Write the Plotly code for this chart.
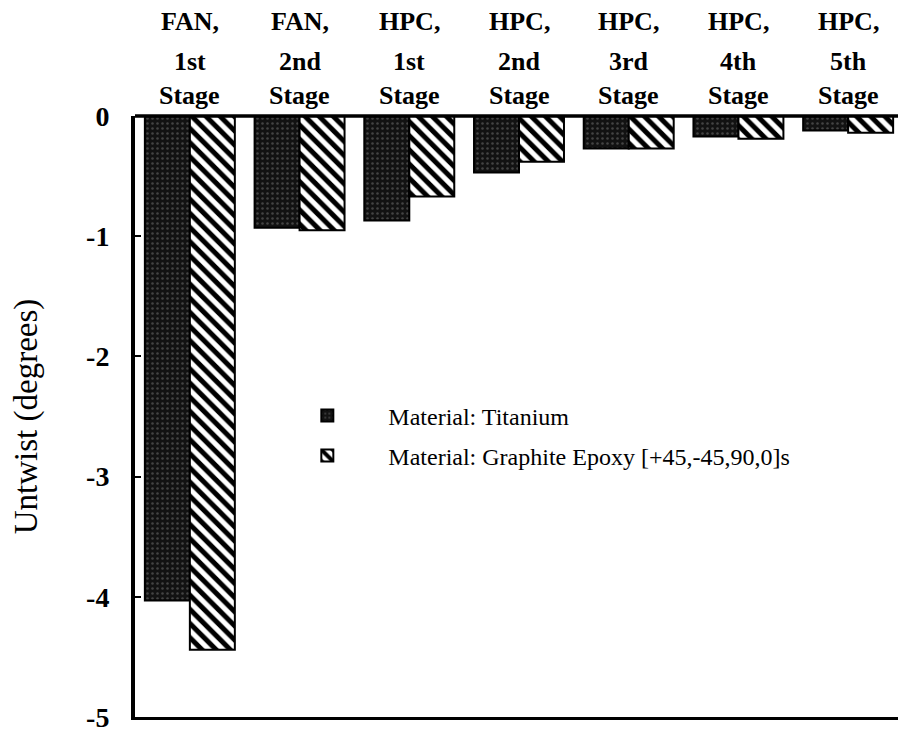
import plotly.graph_objects as go

categories = ["FAN1", "FAN2", "HPC1", "HPC2", "HPC3", "HPC4", "HPC5"]
label_line1 = ["FAN,", "FAN,", "HPC,", "HPC,", "HPC,", "HPC,", "HPC,"]
label_line2 = ["1st", "2nd", "1st", "2nd", "3rd", "4th", "5th"]
label_line3 = ["Stage"] * 7
titanium = [-4.03, -0.93, -0.87, -0.47, -0.27, -0.17, -0.12]
graphite = [-4.44, -0.95, -0.67, -0.38, -0.27, -0.19, -0.14]
y_ticks = [0, -1, -2, -3, -4, -5]

FONT = "Liberation Serif, Times New Roman, serif"
TOP, BOTTOM = 116, 717  # pixel rows of the plot area in the reference
OFF = 8  # page body margin

fig = go.Figure()
fig.add_trace(go.Bar(
    x=categories, y=titanium, name="Material: Titanium", legend="legend",
    marker=dict(color="#121212", line=dict(color="black", width=2),
                pattern=dict(shape=".", fgcolor="#444444", fgopacity=1, size=5, solidity=0.2)),
))
fig.add_trace(go.Bar(
    x=categories, y=graphite, name="Material: Graphite Epoxy [+45,-45,90,0]s", legend="legend2",
    marker=dict(color="white", line=dict(color="black", width=2),
                pattern=dict(shape="\\", fgcolor="black", bgcolor="white", fgopacity=1,
                             size=10, solidity=0.5)),
))

for i, c in enumerate(categories):
    for txt, py in [(label_line1[i], 22), (label_line2[i], 61), (label_line3[i], 95)]:
        fig.add_annotation(x=c, xref="x", y=(BOTTOM - py) / (BOTTOM - TOP), yref="paper",
                           text="<b>%s</b>" % txt, showarrow=False,
                           font=dict(family=FONT, size=26, color="black"),
                           xanchor="center", yanchor="middle")

leg_common = dict(xanchor="left", yanchor="middle", bgcolor="rgba(0,0,0,0)",
                  font=dict(family=FONT, size=24, color="black"), itemwidth=112)
fig.update_layout(
    width=906 - OFF, height=738 - OFF,
    margin=dict(l=135 - OFF, r=3, t=TOP - OFF, b=738 - BOTTOM, autoexpand=False),
    paper_bgcolor="white", plot_bgcolor="white",
    barmode="group", bargap=0.18, bargroupgap=0.0,
    font=dict(family=FONT, size=20, color="black"),
    showlegend=True,
    legend=dict(x=0.171, y=(BOTTOM - 416) / (BOTTOM - TOP), **leg_common),
    legend2=dict(x=0.171, y=(BOTTOM - 456) / (BOTTOM - TOP), **leg_common),
    xaxis=dict(showticklabels=False, showline=True, linecolor="black", linewidth=3,
               ticks="", showgrid=False, zeroline=False, automargin=False),
    yaxis=dict(range=[-5, 0], tickvals=y_ticks, ticktext=["<b>%d</b>" % v for v in y_ticks],
               showline=True, linecolor="black", linewidth=4, automargin=False,
               ticks="inside", ticklen=6, tickwidth=2, tickcolor="black",
               showgrid=False, zeroline=False, ticklabelstandoff=16,
               tickfont=dict(family=FONT, size=28),
               title=dict(text="Untwist (degrees)", font=dict(family=FONT, size=33), standoff=40)),
)
# top and right frame
fig.add_shape(type="line", xref="paper", yref="paper", x0=0, x1=1, y0=1, y1=1,
              line=dict(color="black", width=3.5))
fig.add_shape(type="line", xref="paper", yref="paper", x0=1, x1=1, y0=0, y1=1,
              line=dict(color="black", width=1.5))

fig.write_html("out.html")
